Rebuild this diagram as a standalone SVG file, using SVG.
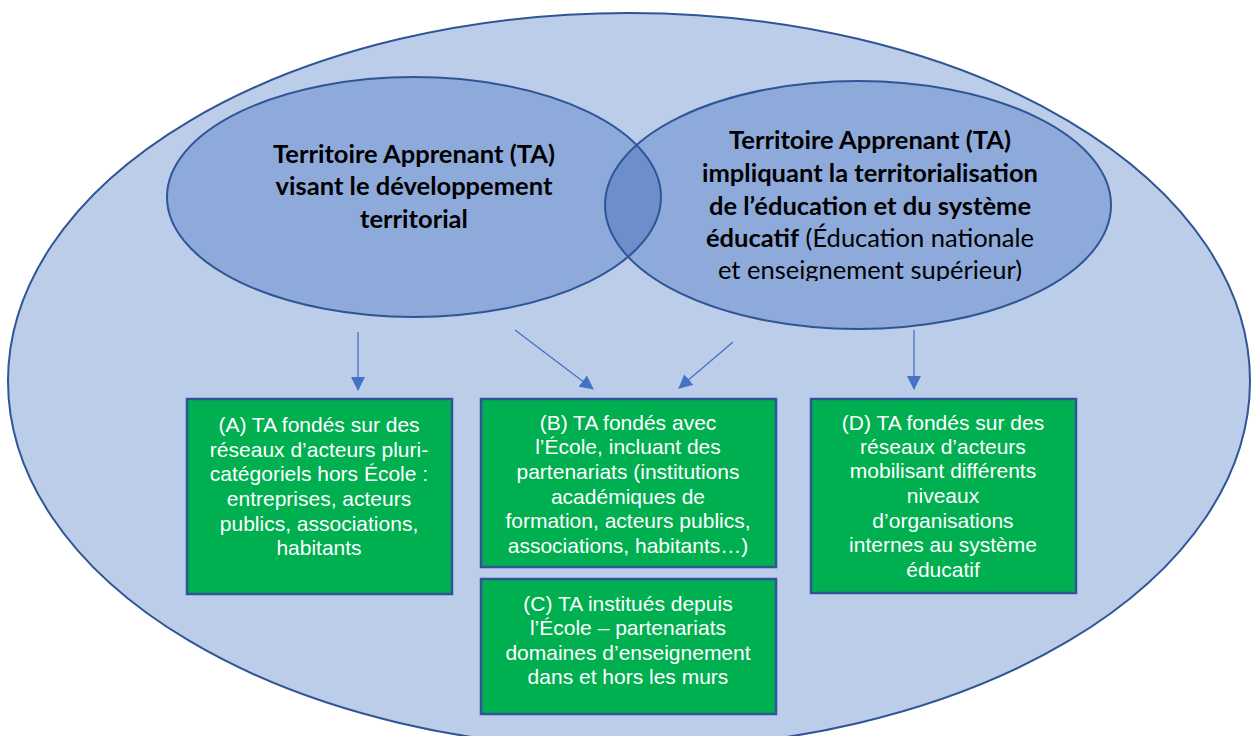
<svg xmlns="http://www.w3.org/2000/svg" width="1252" height="736" viewBox="0 0 1252 736">
<style>
.bg{fill:#bccde9;stroke:#2f5597;stroke-width:2}
.inner{fill:#8eaadb}
.ring{fill:none;stroke:#2f5597;stroke-width:2}
.ovl{fill:#6c8fcc}
.et{font-family:Lato,"Open Sans","Liberation Sans",sans-serif;font-size:25.5px;fill:#000;text-anchor:middle}
.b{font-weight:bold}
.box{fill:#00b050;stroke:#2f5597;stroke-width:2.5}
.bt{font-family:"Liberation Sans",Arial,sans-serif;font-size:21px;fill:#fff;text-anchor:middle}
.arr{stroke:#4472c4;stroke-width:1.3;fill:none;marker-end:url(#ah)}
</style>
<defs>
<marker id="ah" markerUnits="userSpaceOnUse" markerWidth="14" markerHeight="14" viewBox="0 0 14 14" refX="13" refY="7" orient="auto">
<path d="M0,0 L14,7 L0,14 z" fill="#4472c4"/>
</marker>
<clipPath id="leftClip"><ellipse cx="414" cy="197" rx="247" ry="120"/></clipPath>
<clipPath id="txtClip"><rect x="600" y="0" width="520" height="281"/></clipPath>
</defs>
<rect width="1252" height="736" fill="#fff"/>
<g id="territory">
<ellipse class="bg" cx="629" cy="381" rx="621" ry="368"/>
</g>
<g id="ta-left">
<ellipse class="inner" cx="414" cy="197" rx="247" ry="120"/>
</g>
<g id="ta-right">
<ellipse class="inner" cx="858" cy="205" rx="253" ry="124"/>
<ellipse class="ovl" cx="858" cy="205" rx="253" ry="124" clip-path="url(#leftClip)"/>
<ellipse class="ring" cx="858" cy="205" rx="253" ry="124"/>
</g>
<g id="ta-left-outline">
<ellipse class="ring" cx="414" cy="197" rx="247" ry="120"/>
<text class="et b" x="414" y="163">Territoire Apprenant (TA)</text>
<text class="et b" x="414" y="195">visant le développement</text>
<text class="et b" x="414" y="228">territorial</text>
</g>
<g id="ta-right-text" clip-path="url(#txtClip)">
<text class="et b" x="870" y="149">Territoire Apprenant (TA)</text>
<text class="et b" x="870" y="182">impliquant la territorialisation</text>
<text class="et b" x="870" y="215">de l’éducation et du système</text>
<text class="et" x="870" y="247"><tspan font-weight="bold">éducatif</tspan> (Éducation nationale</text>
<text class="et" x="870" y="279">et enseignement supérieur)</text>
</g>
<g id="connectors">
<line class="arr" x1="358" y1="332" x2="358" y2="390"/>
<line class="arr" x1="515" y1="330" x2="593" y2="389"/>
<line class="arr" x1="733" y1="342" x2="679" y2="388"/>
<line class="arr" x1="914" y1="330" x2="914" y2="389"/>
</g>
<g id="box-a">
<rect class="box" x="187" y="399" width="265" height="195"/>
<text class="bt" x="319" y="432">(A) TA fondés sur des</text>
<text class="bt" x="319" y="457">réseaux d’acteurs pluri-</text>
<text class="bt" x="319" y="481">catégoriels hors École :</text>
<text class="bt" x="319" y="506">entreprises, acteurs</text>
<text class="bt" x="319" y="531">publics, associations,</text>
<text class="bt" x="319" y="555">habitants</text>
</g>
<g id="box-b">
<rect class="box" x="481" y="399" width="295" height="168"/>
<text class="bt" x="628" y="430">(B) TA fondés avec</text>
<text class="bt" x="628" y="454">l’École, incluant des</text>
<text class="bt" x="628" y="479">partenariats (institutions</text>
<text class="bt" x="628" y="504">académiques de</text>
<text class="bt" x="628" y="528">formation, acteurs publics,</text>
<text class="bt" x="628" y="553">associations, habitants…)</text>
</g>
<g id="box-c">
<rect class="box" x="481" y="579" width="295" height="135"/>
<text class="bt" x="628" y="611">(C) TA institués depuis</text>
<text class="bt" x="628" y="635">l’École – partenariats</text>
<text class="bt" x="628" y="660">domaines d’enseignement</text>
<text class="bt" x="628" y="684">dans et hors les murs</text>
</g>
<g id="box-d">
<rect class="box" x="811" y="399" width="265" height="194"/>
<text class="bt" x="943" y="430">(D) TA fondés sur des</text>
<text class="bt" x="943" y="454">réseaux d’acteurs</text>
<text class="bt" x="943" y="478">mobilisant différents</text>
<text class="bt" x="943" y="503">niveaux</text>
<text class="bt" x="943" y="528">d’organisations</text>
<text class="bt" x="943" y="552">internes au système</text>
<text class="bt" x="943" y="577">éducatif</text>
</g>
</svg>
